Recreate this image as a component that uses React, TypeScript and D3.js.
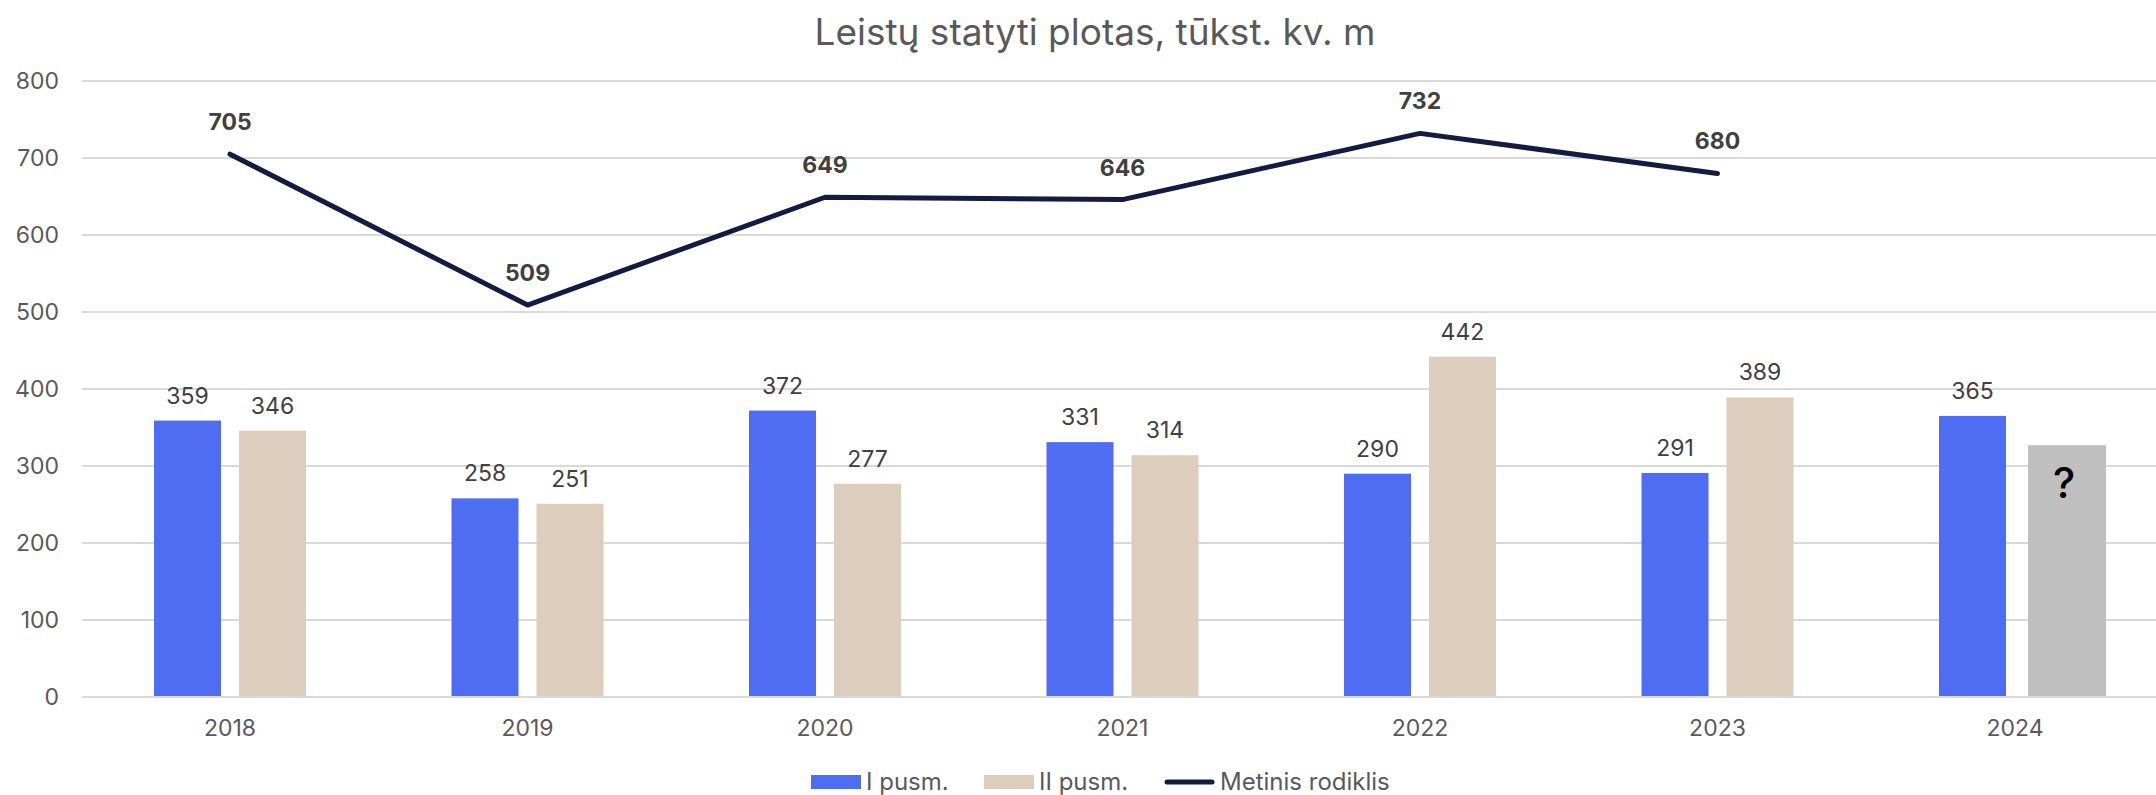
import React from "react";
import * as d3 from "d3";

const years = ["2018", "2019", "2020", "2021", "2022", "2023", "2024"];
const firstHalf = [359, 258, 372, 331, 290, 291, 365];
const secondHalf: (number | null)[] = [346, 251, 277, 314, 442, 389, null];
const annual: (number | null)[] = [705, 509, 649, 646, 732, 680, null];
const forecastYear = "2024";
const forecastValue = 327;
const yTicks = [0, 100, 200, 300, 400, 500, 600, 700, 800];
const seriesNames = ["I pusm.", "II pusm.", "Metinis rodiklis"];

const W = 2156;
const H = 795;
const FONT = "Inter, 'Noto Sans', sans-serif";
const BLUE = "#4F6DF3";
const BEIGE = "#DDCDBD";
const GRAY = "#BFBFBF";
const NAVY = "#141B41";
const GRID = "#D9D9D9";
const TXT = "#595959";
const LBL = "#404040";

export default function App() {
  const x0 = d3.scaleBand<string>().domain(years).range([81.25, 81.25 + 7 * 297.5]).padding(0);
  const x1 = d3
    .scaleBand<string>()
    .domain(["I", "II"])
    .range([0, x0.bandwidth()])
    .paddingInner(0.2118)
    .paddingOuter(0.856);
  const y = d3.scaleLinear().domain([0, 800]).range([697, 81]);
  const cx = (yr: string) => (x0(yr) as number) + x0.bandwidth() / 2;

  const linePts = years
    .map((yr, i) => ({ yr, v: annual[i] }))
    .filter((d) => d.v !== null) as { yr: string; v: number }[];
  const lineGen = d3
    .line<{ yr: string; v: number }>()
    .x((d) => cx(d.yr))
    .y((d) => y(d.v));

  const bw = x1.bandwidth();
  const fx = (x0(forecastYear) as number) + (x1("II") as number) + 4;
  const fw = bw * 1.165;

  return (
    <svg width={W} height={H} style={{ position: "absolute", left: 0, top: 0, background: "#fff" }} fontFamily={FONT}>
      <text x={1095} y={45} textAnchor="middle" fontSize={37} fill={TXT}>
        Leistų statyti plotas, tūkst. kv. m
      </text>
      {yTicks.map((t) => (
        <g key={t}>
          <line x1={82} x2={W} y1={y(t)} y2={y(t)} stroke={GRID} strokeWidth={2} />
          <text x={59} y={y(t) + 8} textAnchor="end" fontSize={23} fill={TXT}>
            {t}
          </text>
        </g>
      ))}
      {years.map((yr, i) => {
        const gx = x0(yr) as number;
        const a = firstHalf[i];
        const b = secondHalf[i];
        return (
          <g key={yr}>
            <rect x={gx + (x1("I") as number)} y={y(a)} width={bw} height={y(0) - y(a)} fill={BLUE} />
            <text x={gx + (x1("I") as number) + bw / 2} y={y(a) - 17} textAnchor="middle" fontSize={23} fill={LBL}>
              {a}
            </text>
            {b !== null && (
              <>
                <rect x={gx + (x1("II") as number)} y={y(b)} width={bw} height={y(0) - y(b)} fill={BEIGE} />
                <text x={gx + (x1("II") as number) + bw / 2} y={y(b) - 17} textAnchor="middle" fontSize={23} fill={LBL}>
                  {b}
                </text>
              </>
            )}
            <text x={cx(yr)} y={736} textAnchor="middle" fontSize={23} fill={TXT}>
              {yr}
            </text>
          </g>
        );
      })}
      <rect x={fx} y={y(forecastValue)} width={fw} height={y(0) - y(forecastValue)} fill={GRAY} />
      <text x={fx + fw / 2 - 3} y={y(forecastValue) + 53} textAnchor="middle" fontSize={42} fontWeight={500} fill="#000">
        ?
      </text>
      <line x1={82} x2={W} y1={y(0)} y2={y(0)} stroke={GRID} strokeWidth={2} />
      <path d={lineGen(linePts) as string} fill="none" stroke={NAVY} strokeWidth={5} strokeLinecap="round" strokeLinejoin="round" />
      {linePts.map((d) => (
        <text key={d.yr} x={cx(d.yr)} y={y(d.v) - 24} textAnchor="middle" fontSize={23} fontWeight={700} fill={LBL}>
          {d.v}
        </text>
      ))}
      <g fontSize={24} fill={TXT}>
        <rect x={811} y={775} width={50} height={14} fill={BLUE} />
        <text x={866} y={790}>{seriesNames[0]}</text>
        <rect x={984} y={775} width={50} height={14} fill={BEIGE} />
        <text x={1039} y={790}>{seriesNames[1]}</text>
        <line x1={1167} x2={1212} y1={782} y2={782} stroke={NAVY} strokeWidth={5} strokeLinecap="round" />
        <text x={1220} y={790}>{seriesNames[2]}</text>
      </g>
    </svg>
  );
}
